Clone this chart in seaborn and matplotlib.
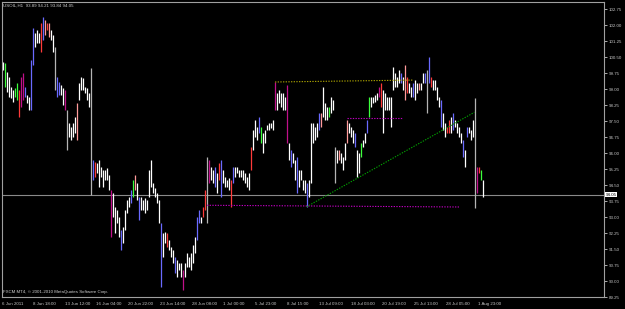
import numpy as np
import pandas as pd
import seaborn as sns
import matplotlib
matplotlib.use("Agg")
import matplotlib.pyplot as plt

# ---------------- data (USOIL H1, aggregated columns) ----------------
bar_high = [100.27, 100.22, 99.80, 99.56, 99.09, 98.95, 99.05, 99.28, 98.95, 99.56,
            99.75, 99.09, 98.72, 98.63, 100.36, 101.86, 101.63, 101.77, 101.63, 102.09,
            102.38, 102.23, 102.09, 102.09, 101.77, 101.53, 100.97, 99.56, 99.33, 99.19,
            99.05, 98.95, 98.02, 97.41, 97.22, 97.41, 97.69, 98.34, 99.28, 99.56,
            99.52, 99.09, 99.05, 98.81, 99.98, 95.67, 95.58, 95.53, 95.67, 95.34,
            95.20, 95.20, 95.30, 94.97, 94.26, 94.12, 93.47, 93.33, 93.00, 92.39,
            92.53, 93.33, 93.80, 93.94, 94.26, 94.73, 94.97, 94.59, 93.94, 93.94,
            93.80, 93.89, 93.80, 95.20, 95.67, 94.59, 94.36, 94.12, 93.80, 92.72,
            92.25, 92.30, 92.25, 91.92, 91.59, 91.45, 91.12, 90.98, 90.84, 90.84,
            90.51, 90.84, 91.31, 91.12, 91.31, 91.69, 92.06, 93.00, 93.33, 93.00,
            93.47, 94.26, 95.81, 95.67, 95.34, 95.20, 95.34, 95.06, 95.53, 95.67,
            95.20, 94.87, 94.73, 94.83, 94.73, 95.34, 95.34, 95.34, 95.20, 95.20,
            95.20, 95.06, 94.87, 95.06, 96.28, 97.08, 97.55, 97.22, 97.69, 97.22,
            96.94, 97.08, 97.31, 97.41, 97.41, 97.55, 99.33, 98.81, 98.95, 98.81,
            98.81, 98.63, 99.19, 96.47, 96.14, 96.00, 95.67, 95.81, 95.20, 95.20,
            94.73, 94.73, 94.59, 94.73, 97.41, 97.41, 97.22, 97.41, 97.88, 97.88,
            99.09, 98.34, 98.16, 98.16, 98.63, 98.48, 96.28, 96.14, 96.14, 96.00,
            95.81, 96.47, 97.55, 97.41, 97.22, 97.08, 96.94, 96.14, 96.00, 96.47,
            96.61, 96.94, 97.55, 98.63, 98.63, 98.63, 98.72, 98.81, 99.09, 99.28,
            98.95, 98.81, 98.63, 98.63, 98.63, 100.03, 99.75, 99.56, 99.89, 99.75,
            99.56, 100.13, 99.56, 99.28, 99.09, 99.28, 99.42, 99.28, 99.28, 99.28,
            99.75, 99.75, 99.89, 100.50, 99.56, 99.42, 99.42, 99.09, 98.63, 98.48,
            97.88, 97.41, 97.22, 97.55, 97.69, 97.88, 97.55, 97.41, 97.22, 96.94,
            96.61, 96.14, 97.22, 97.22, 97.08, 97.55, 98.58, 95.34, 95.34, 95.20,
            94.73]
bar_low = [99.89, 99.09, 98.86, 98.63, 98.58, 98.39, 98.63, 98.48, 97.69, 98.16,
           98.48, 98.63, 98.34, 98.02, 98.02, 100.13, 100.97, 101.16, 101.16, 100.73,
           101.30, 101.53, 101.77, 101.44, 101.30, 100.73, 98.95, 98.63, 98.72, 98.72,
           98.25, 98.02, 96.14, 96.75, 96.61, 96.75, 96.94, 96.61, 98.48, 98.95,
           98.95, 98.81, 98.48, 98.16, 94.03, 94.73, 94.87, 95.06, 94.40, 94.87,
           94.40, 94.73, 94.73, 94.26, 92.06, 93.00, 92.25, 92.72, 92.06, 91.45,
           91.78, 92.39, 93.19, 93.47, 93.65, 93.94, 94.26, 93.80, 92.86, 93.33,
           93.33, 93.19, 93.33, 93.94, 94.40, 94.12, 93.94, 93.65, 92.72, 89.72,
           91.12, 91.78, 91.59, 91.45, 91.12, 90.84, 90.37, 90.19, 90.51, 90.19,
           89.58, 90.19, 90.65, 90.65, 90.51, 90.84, 91.31, 91.92, 92.72, 92.72,
           93.00, 93.33, 92.72, 94.59, 94.73, 94.59, 94.40, 94.12, 94.73, 93.94,
           94.59, 94.40, 94.40, 94.26, 93.47, 94.59, 94.87, 95.06, 94.87, 94.87,
           94.73, 94.59, 94.40, 94.26, 95.20, 96.14, 96.75, 96.61, 96.94, 96.47,
           96.00, 96.47, 97.08, 97.08, 97.17, 97.08, 98.02, 98.02, 98.34, 98.16,
           98.02, 98.02, 96.47, 95.67, 95.34, 95.53, 94.73, 94.12, 94.40, 94.73,
           94.26, 94.12, 93.47, 93.94, 94.59, 96.47, 96.61, 96.75, 97.08, 97.22,
           97.69, 97.55, 97.55, 97.69, 97.88, 98.02, 94.59, 95.53, 95.67, 95.53,
           95.20, 95.67, 96.47, 96.94, 96.75, 96.47, 96.28, 94.87, 95.06, 95.81,
           96.28, 96.47, 96.94, 97.69, 98.16, 98.34, 98.39, 98.48, 98.63, 98.16,
           96.94, 98.02, 98.02, 98.02, 97.22, 98.95, 99.09, 99.09, 99.28, 99.28,
           98.95, 98.48, 98.81, 98.81, 98.63, 98.63, 98.48, 98.81, 98.95, 98.95,
           99.28, 99.28, 97.88, 99.28, 99.09, 98.95, 98.95, 98.48, 98.16, 97.22,
           97.08, 96.75, 96.94, 96.94, 96.94, 97.08, 97.22, 96.94, 96.75, 96.47,
           95.81, 95.34, 96.75, 96.94, 96.61, 96.75, 93.42, 94.12, 95.06, 94.73,
           93.94]
# accent colours of individual bars (all others white)
bar_accent = {1: 'g', 6: 'g', 7: 'g', 8: 'r', 9: 'm', 10: 'm', 11: 'b', 14: 'b', 15: 'b',
              19: 'r', 20: 'b', 21: 'p', 22: 'r', 23: 'p', 26: 'a', 27: 'b', 28: 'b', 31: 'm',
              32: 'a', 37: 'p', 44: 'a', 45: 'b', 46: 'r', 54: 'm', 59: 'b', 64: 'b', 65: 'g',
              66: 'p', 68: 'b', 79: 'b', 82: 'r', 86: 'b', 90: 'm', 97: 'b', 98: 'b', 100: 'r',
              101: 'r', 102: 'a', 103: 'm', 106: 'b', 108: 'r', 109: 'b', 114: 'r', 115: 'b',
              124: 'r', 128: 'b', 129: 'g', 136: 'm', 142: 'm', 144: 'b', 147: 'b', 152: 'b',
              158: 'b', 159: 'p', 163: 'g', 166: 'a', 168: 'p', 172: 'p', 176: 'b', 179: 'g',
              182: 'b', 183: 'g', 188: 'm', 189: 'r', 199: 'b', 201: 'p', 202: 'r', 205: 'b',
              208: 'p', 211: 'b', 212: 'a', 213: 'b', 214: 'r', 219: 'b', 222: 'r', 223: 'r',
              225: 'b', 230: 'b', 232: 'b', 236: 'a', 237: 'm', 238: 'r', 239: 'g'}

tick_labels = ["6 Jun 2011", "8 Jun 18:00", "13 Jun 12:00", "16 Jun 04:00", "20 Jun 22:00",
               "23 Jun 14:00", "28 Jun 08:00", "1 Jul 00:00", "5 Jul 23:00", "8 Jul 15:00",
               "13 Jul 09:00", "18 Jul 03:00", "20 Jul 19:00", "25 Jul 13:00", "28 Jul 05:00",
               "1 Aug 23:00"]
tick_pos = [-0.5, 14.9, 30.8, 46.7, 62.6, 78.5, 94.3, 110.2, 126.1, 142.0,
            157.9, 173.8, 189.7, 205.6, 221.5, 237.4]
price_ticks = [89.25, 90.00, 90.75, 91.50, 92.25, 93.00, 93.75, 94.50, 95.25, 96.00,
               96.75, 97.50, 98.25, 99.00, 99.75, 100.50, 101.25, 102.00, 102.75]
last_price = 94.05
title_text = "USOIL,H1  93.89 94.21 93.84 94.05"
copyright_text = "FXCM MT4, \u00a9 2001-2010 MetaQuotes Software Corp."

# drawn objects: (x0, y0, x1, y1)
resist_line = [(136, 99.33), (205, 99.42)]
mid_line = [(172, 97.64), (200, 97.64)]
support_line = [(102, 93.55), (228, 93.47)]
trend_line = [(151.8, 93.48), (235.7, 97.91)]

# ---------------- styling ----------------
sns.set_style("dark", {"axes.facecolor": "black", "figure.facecolor": "black"})
plt.rcParams['font.family'] = ['Liberation Sans', 'DejaVu Sans']

palette = {'w': '#ffffff', 'b': '#6a6aff', 'r': '#ff3a3a', 'p': '#ff9a9a',
           'g': '#3cff3c', 'm': '#c0108a', 'a': '#b4b4b4'}
idx = np.arange(len(bar_high))
df = pd.DataFrame({"idx": idx, "high": bar_high, "low": bar_low,
                   "color": [palette[bar_accent.get(i, 'w')] for i in idx]})

fig = plt.figure(figsize=(6.25, 3.09), dpi=100, facecolor='black')
W, H = 625, 309
ax = fig.add_axes([2 / W, 12 / H, 602 / W, 295 / H])
ax.set_facecolor('black')

ax.vlines(df["idx"], df["low"], df["high"], colors=df["color"], lw=0.9)

ax.axhline(last_price, color='#8a8a8a', lw=0.8, zorder=1)

dot = (0, (1.2, 1.2))
for seg, col in [(resist_line, '#a8a000'), (mid_line, '#c000c0'),
                 (support_line, '#c000c0'), (trend_line, '#00a000')]:
    sns.lineplot(x=[seg[0][0], seg[1][0]], y=[seg[0][1], seg[1][1]], ax=ax,
                 color=col, lw=0.8, linestyle=dot, sort=False)

ax.set_xlim(-0.5, 300.5)
ax.set_ylim(89.25, 103.08)

for s in ax.spines.values():
    s.set_color('#a0a0a0')
    s.set_linewidth(0.8)
    s.set_visible(True)

ax.yaxis.tick_right()
ax.set_yticks(price_ticks)
ax.set_yticklabels([f"{v:.2f}" for v in price_ticks])
ax.tick_params(axis='y', colors='#c8c8c8', labelsize=3.2, length=2, width=0.6,
               direction='out', pad=1.5, left=False, right=True)

ax.set_xticks(tick_pos)
ax.set_xticklabels(tick_labels)
ax.tick_params(axis='x', colors='#c8c8c8', labelsize=3.2, length=3, width=0.6,
               direction='out', pad=0.8)
for lab in ax.get_xticklabels():
    lab.set_horizontalalignment('left')
ax.set_xlabel("")
ax.set_ylabel("")
ax.grid(False)

ax.text(1.003, last_price, f"{last_price:.2f}", transform=ax.get_yaxis_transform(),
        ha='left', va='center', fontsize=3.2, color='black',
        bbox=dict(boxstyle='square,pad=0.15', fc='white', ec='white', lw=0))

fig.text(3 / W, 1 - 5.5 / H, title_text, ha='left', va='center', fontsize=3.2, color='#d0d0d0')
ax.text(1 / 602, 3 / 295, copyright_text, transform=ax.transAxes, ha='left', va='bottom',
        fontsize=3.2, color='#d0d0d0')

fig.savefig("out.png", dpi=100, facecolor='black')
